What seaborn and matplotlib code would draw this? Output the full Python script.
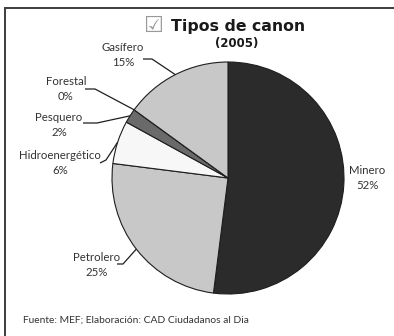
import numpy as np
import matplotlib
matplotlib.use("Agg")
import matplotlib.pyplot as plt
from matplotlib.patches import Rectangle
import seaborn as sns

# Canon distribution by type, 2005 (percent)
categories = ["Minero", "Petrolero", "Hidroenergético", "Pesquero", "Forestal", "Gasífero"]
shares = [52, 25, 6, 2, 0, 15]
slice_colors = ["#2b2b2b", "#c8c8c8", "#f7f7f7", "#6a6a6a", "#9a9a9a", "#c8c8c8"]

title = "Tipos de canon"
subtitle = "(2005)"
source = "Fuente: MEF; Elaboración: CAD Ciudadanos al Dia"

sns.set_theme(style="white")
plt.rcParams["font.family"] = ["Lato", "DejaVu Sans"]

W, H = 394, 336
fig = plt.figure(figsize=(W / 100, H / 100), dpi=100)
ax = fig.add_axes([0, 0, 1, 1])

cx, cy, R = 228, 158, 116
wedges, _ = ax.pie(shares, colors=slice_colors, startangle=90, counterclock=False,
                   center=(cx, cy), radius=R, frame=True,
                   wedgeprops=dict(edgecolor="#1e1e1e", linewidth=0.8))
ax.set_xlim(0, W)
ax.set_ylim(0, H)
ax.set_aspect("equal")
ax.axis("off")

# outer frame (only top and left edges fall inside the canvas)
ax.add_patch(Rectangle((5.5, -20), 420, 328.5 + 20, fill=False,
                       edgecolor="#3c3c3c", linewidth=1.4, clip_on=False))

# label layout: text centre, leader start, elbow
label_layout = {
    "Gasífero":        dict(txt=(123, 55), start=(143, 277), elbow=(152, 277)),
    "Forestal":        dict(txt=(66, 89), start=(85, 247), elbow=(95, 247)),
    "Pesquero":        dict(txt=(59, 125), start=(83, 213), elbow=(97, 213)),
    "Hidroenergético": dict(txt=(60, 163), start=(100, 173), elbow=(106, 176)),
    "Petrolero":       dict(txt=(97, 265), start=(117, 72), elbow=(123, 72)),
    "Minero":          dict(txt=(367, 178), start=None, elbow=None),
}

for w, name, val in zip(wedges, categories, shares):
    lay = label_layout[name]
    tx, ty = lay["txt"]
    ax.text(tx, H - ty, f"{name}\n{val}%", ha="center", va="center",
            fontsize=8.2, color="#333333", linespacing=1.5)
    if lay["start"] is not None:
        mid = np.deg2rad((w.theta1 + w.theta2) / 2)
        ex, ey = cx + R * np.cos(mid), cy + R * np.sin(mid)
        xs = [lay["start"][0], lay["elbow"][0], ex]
        ys = [lay["start"][1], lay["elbow"][1], ey]
        ax.plot(xs, ys, color="#1e1e1e", linewidth=0.9, solid_capstyle="butt")

# title block
ax.text(153, H - 26, "\u2611", ha="center", va="center", fontsize=16,
        color="#9a9a9a", family="DejaVu Sans")
ax.text(238, H - 27, title, ha="center", va="center", fontsize=11.3,
        fontweight="bold", color="#1a1a1a", family="DejaVu Sans")
ax.text(237, H - 44, subtitle, ha="center", va="center", fontsize=8.5,
        fontweight="bold", color="#1a1a1a", family="DejaVu Sans")

ax.text(23, H - 320, source, ha="left", va="center", fontsize=7.4, color="#333333")

fig.savefig("out.png", dpi=100, facecolor="white")
